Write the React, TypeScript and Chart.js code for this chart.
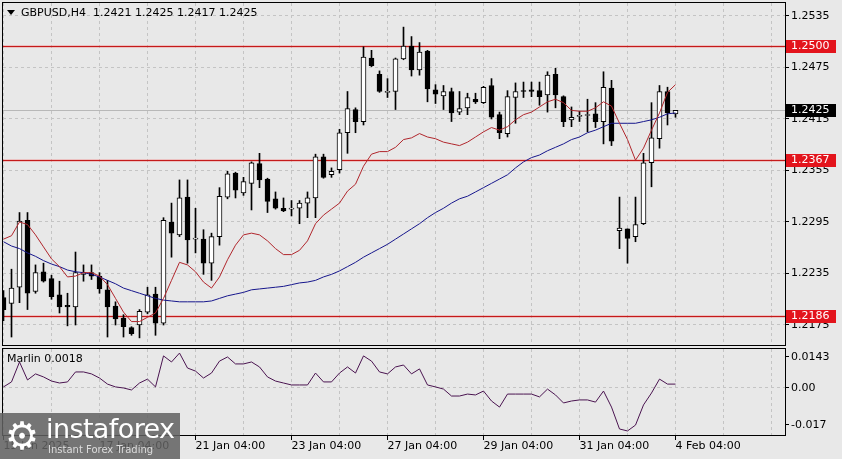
import React, { useEffect, useRef } from "react";
import { Chart, registerables } from "chart.js";

Chart.register(...registerables);

// ---- Data (GBPUSD, H4) ----
const opens = [1.2207,1.2200,1.2219,1.2297,1.2214,1.2237,1.2229,1.2210,1.2198,1.2196,
1.2234,1.2236,1.2232,1.2216,1.2197,1.2183,1.2172,1.2175,1.2190,1.2211,
1.2177,1.2295,1.2280,1.2324,1.2275,1.2275,1.2247,1.2278,1.2324,1.2352,
1.2329,1.2340,1.2363,1.2345,1.2322,1.2311,1.2310,1.2311,1.2317,1.2323,
1.2371,1.2350,1.2356,1.2399,1.2426,1.2412,1.2486,1.2467,1.2446,1.2447,
1.2485,1.2500,1.2472,1.2494,1.2449,1.2442,1.2447,1.2423,1.2428,1.2438,
1.2434,1.2454,1.2420,1.2398,1.2440,1.2448,1.2449,1.2448,1.2443,1.2467,
1.2441,1.2414,1.2418,1.2419,1.2421,1.2412,1.2451,1.2285,1.2287,1.2278,
1.2293,1.2364,1.2392,1.2447,1.2421];

const highs = [1.2215,1.2240,1.2306,1.2306,1.2245,1.2247,1.2233,1.2226,1.2212,1.2260,
1.2245,1.2245,1.2236,1.2227,1.2202,1.2187,1.2173,1.2193,1.2219,1.2219,
1.2300,1.2317,1.2344,1.2344,1.2311,1.2286,1.2282,1.2335,1.2354,1.2353,
1.2347,1.2365,1.2375,1.2346,1.2330,1.2323,1.2320,1.2320,1.2330,1.2374,
1.2374,1.2358,1.2403,1.2447,1.2428,1.2499,1.2495,1.2471,1.2462,1.2486,
1.2522,1.2511,1.2504,1.2495,1.2455,1.2454,1.2451,1.2447,1.2445,1.2445,
1.2453,1.2462,1.2423,1.2448,1.2457,1.2458,1.2458,1.2458,1.2470,1.2474,
1.2442,1.2429,1.2424,1.2438,1.2434,1.2470,1.2460,1.2324,1.2287,1.2324,
1.2375,1.2434,1.2454,1.2452,1.2425];

const lows = [1.2180,1.2161,1.2201,1.2193,1.2212,1.2225,1.2205,1.2189,1.2174,1.2175,
1.2226,1.2228,1.2212,1.2161,1.2175,1.2161,1.2163,1.2160,1.2188,1.2163,
1.2175,1.2254,1.2278,1.2247,1.2259,1.2234,1.2227,1.2268,1.2322,1.2323,
1.2326,1.2309,1.2335,1.2306,1.2310,1.2307,1.2302,1.2293,1.2300,1.2300,
1.2346,1.2347,1.2352,1.2375,1.2399,1.2408,1.2476,1.2446,1.2440,1.2426,
1.2484,1.2465,1.2466,1.2435,1.2433,1.2426,1.2412,1.2420,1.2420,1.2433,
1.2433,1.2415,1.2392,1.2394,1.2410,1.2440,1.2441,1.2431,1.2423,1.2428,
1.2406,1.2406,1.2412,1.2400,1.2405,1.2386,1.2384,1.2264,1.2247,1.2272,
1.2292,1.2336,1.2381,1.2408,1.2417];

const closes = [1.2193,1.2218,1.2296,1.2212,1.2236,1.2226,1.2208,1.2196,1.2196,1.2236,
1.2236,1.2232,1.2217,1.2196,1.2182,1.2173,1.2165,1.2191,1.2210,1.2177,
1.2297,1.2282,1.2323,1.2274,1.2275,1.2247,1.2278,1.2325,1.2351,1.2332,
1.2342,1.2364,1.2344,1.2319,1.2311,1.2308,1.2311,1.2317,1.2323,1.2371,
1.2347,1.2354,1.2399,1.2427,1.2412,1.2487,1.2477,1.2447,1.2447,1.2485,
1.2500,1.2472,1.2493,1.2450,1.2444,1.2447,1.2422,1.2427,1.2440,1.2435,
1.2452,1.2417,1.2399,1.2441,1.2447,1.2447,1.2447,1.2441,1.2466,1.2443,
1.2412,1.2417,1.2419,1.2420,1.2412,1.2452,1.2389,1.2288,1.2276,1.2292,
1.2364,1.2393,1.2447,1.2422,1.2425];

const fastMA = [1.2275,1.2279,1.2295,1.2292,1.2280,1.2266,1.2252,1.2243,1.2231,1.2232,
1.2236,1.2236,1.2232,1.2222,1.2206,1.2190,1.2179,1.2179,1.2184,1.2189,
1.2206,1.2227,1.2248,1.2245,1.2237,1.2225,1.2218,1.2231,1.2251,1.2268,
1.2280,1.2282,1.2280,1.2273,1.2264,1.2257,1.2257,1.2262,1.2273,1.2293,
1.2303,1.2310,1.2317,1.2331,1.2339,1.2360,1.2374,1.2377,1.2377,1.2382,
1.2391,1.2393,1.2398,1.2394,1.2392,1.2388,1.2386,1.2384,1.2388,1.2394,
1.2400,1.2405,1.2402,1.2406,1.2414,1.2420,1.2423,1.2429,1.2435,1.2438,
1.2434,1.2425,1.2424,1.2424,1.2428,1.2435,1.2430,1.2410,1.2391,1.2367,
1.2381,1.2402,1.2422,1.2446,1.2455];

const slowMA = [1.2272,1.2267,1.2264,1.2259,1.2255,1.2250,1.2246,1.2243,1.2239,1.2237,
1.2236,1.2234,1.2231,1.2227,1.2223,1.2218,1.2215,1.2212,1.2209,1.2206,
1.2204,1.2203,1.2202,1.2202,1.2202,1.2202,1.2203,1.2206,1.2209,1.2211,
1.2213,1.2216,1.2217,1.2218,1.2219,1.2220,1.2222,1.2224,1.2225,1.2227,
1.2231,1.2234,1.2238,1.2243,1.2248,1.2254,1.2259,1.2264,1.2269,1.2275,
1.2281,1.2287,1.2293,1.2300,1.2306,1.2311,1.2317,1.2322,1.2325,1.2330,
1.2335,1.2340,1.2345,1.2350,1.2358,1.2365,1.2370,1.2373,1.2378,1.2382,
1.2386,1.2391,1.2394,1.2399,1.2402,1.2406,1.2410,1.2410,1.2410,1.2410,
1.2412,1.2414,1.2417,1.2421,1.2422];

const marlin = [0.0005,0.0028,0.0120,0.0037,0.0065,0.0051,0.0032,0.0023,0.0028,0.0074,
0.0074,0.0065,0.0046,0.0018,0.0005,0.0000,-0.0009,0.0023,0.0041,0.0005,
0.0148,0.0120,0.0161,0.0092,0.0078,0.0046,0.0069,0.0124,0.0143,0.0111,
0.0111,0.0120,0.0097,0.0051,0.0032,0.0023,0.0014,0.0014,0.0014,0.0069,
0.0028,0.0028,0.0069,0.0097,0.0069,0.0148,0.0124,0.0074,0.0065,0.0097,
0.0106,0.0065,0.0088,0.0014,0.0005,-0.0005,-0.0037,-0.0037,-0.0028,-0.0032,
-0.0014,-0.0060,-0.0088,-0.0028,-0.0028,-0.0028,-0.0028,-0.0041,-0.0005,-0.0032,
-0.0069,-0.0060,-0.0055,-0.0055,-0.0065,-0.0014,-0.0088,-0.0189,-0.0198,-0.0171,
-0.0078,-0.0023,0.0041,0.0018,0.0018];

const priceTicks = [1.2175, 1.2235, 1.2295, 1.2355, 1.2415, 1.2475, 1.2535];
const levelPrices = [1.2500, 1.2367, 1.2186];
const levelTexts = ["1.2500", "1.2367", "1.2186"];
const marlinTicks = [-0.017, 0, 0.0143];
const marlinTickTexts = ["-0.017", "0.00", "0.0143"];
const timeLabelIdx = [0, 12, 24, 36, 48, 60, 72, 84];
const timeLabelTexts = ["15 Jan 2025", "17 Jan 04:00", "21 Jan 04:00", "23 Jan 04:00", "27 Jan 04:00", "29 Jan 04:00", "31 Jan 04:00", "4 Feb 04:00"];
const gridIdx = [0, 6, 12, 18, 24, 30, 36, 42, 48, 54, 60, 66, 72, 78, 84, 90, 96];

// ---- Style ----
const BG = "#e8e8e8";
const GRID = "#c4c4c4";
const FONT = "'DejaVu Sans', 'Liberation Sans', sans-serif";
const X_MIN = -0.0625;
const X_MAX = 97.6875;

Chart.defaults.font.family = FONT;
Chart.defaults.font.size = 11;
Chart.defaults.color = "#000";

function zeroPad(s: any) {
  s.paddingTop = 0;
  s.paddingBottom = 0;
  s.paddingLeft = 0;
  s.paddingRight = 0;
}

function xScale(showLabels: boolean): any {
  return {
    type: "linear",
    min: X_MIN,
    max: X_MAX,
    offset: false,
    afterBuildTicks: (s: any) => {
      s.ticks = gridIdx.map((v) => ({ value: v }));
    },
    afterFit: (s: any) => {
      s.height = showLabels ? 24 : 0;
      zeroPad(s);
    },
    grid: {
      display: true,
      offset: false,
      color: GRID,
      lineWidth: 1,
      drawTicks: showLabels,
      tickLength: 5,
      tickColor: (c: any) => (c.tick && timeLabelIdx.includes(c.tick.value) ? "#000" : "rgba(0,0,0,0)"),
      tickBorderDash: [],
    },
    border: { display: false, dash: [3, 3] },
    ticks: {
      display: showLabels,
      autoSkip: false,
      maxRotation: 0,
      minRotation: 0,
      align: "start",
      padding: 0,
      color: "#000",
      font: { size: 11, family: FONT },
      callback: (v: any) => {
        const k = timeLabelIdx.indexOf(Number(v));
        return k >= 0 ? timeLabelTexts[k] : "";
      },
    },
  };
}

function drawBox(ctx: CanvasRenderingContext2D, y: number, fill: string, text: string) {
  ctx.fillStyle = fill;
  ctx.fillRect(786, Math.round(y) - 6, 50, 13);
  ctx.fillStyle = "#fff";
  ctx.font = `11px ${FONT}`;
  ctx.textAlign = "left";
  ctx.textBaseline = "middle";
  ctx.fillText(text, 791, Math.round(y) + 0.5);
}

export default function App() {
  const mainRef = useRef<HTMLCanvasElement>(null);
  const indRef = useRef<HTMLCanvasElement>(null);

  useEffect(() => {
    const last = closes.length - 1;

    const mainDecor = {
      id: "mainDecor",
      beforeDatasetsDraw(chart: any) {
        const { ctx, chartArea, scales } = chart;
        const y = scales.y;
        ctx.save();
        ctx.beginPath();
        ctx.rect(chartArea.left, chartArea.top, chartArea.right - chartArea.left, chartArea.bottom - chartArea.top);
        ctx.clip();
        const yb = Math.round(y.getPixelForValue(closes[last])) + 0.5;
        ctx.strokeStyle = "#b8b8b8";
        ctx.lineWidth = 1;
        ctx.beginPath();
        ctx.moveTo(chartArea.left, yb);
        ctx.lineTo(chartArea.right, yb);
        ctx.stroke();
        levelPrices.forEach((p) => {
          const yl = Math.round(y.getPixelForValue(p)) + 0.5;
          ctx.strokeStyle = "rgba(240,120,120,0.35)";
          ctx.lineWidth = 3;
          ctx.beginPath();
          ctx.moveTo(chartArea.left, yl);
          ctx.lineTo(chartArea.right, yl);
          ctx.stroke();
          ctx.strokeStyle = "#c41a1a";
          ctx.lineWidth = 1;
          ctx.beginPath();
          ctx.moveTo(chartArea.left, yl);
          ctx.lineTo(chartArea.right, yl);
          ctx.stroke();
        });
        ctx.restore();
      },
      afterDraw(chart: any) {
        const { ctx, chartArea, scales } = chart;
        const y = scales.y;
        ctx.save();
        ctx.strokeStyle = "#000";
        ctx.lineWidth = 1;
        ctx.strokeRect(chartArea.left - 0.5, chartArea.top - 0.5, chartArea.right - chartArea.left + 1, chartArea.bottom - chartArea.top + 1);
        levelPrices.forEach((p, k) => drawBox(ctx, y.getPixelForValue(p), "#e3141c", levelTexts[k]));
        drawBox(ctx, y.getPixelForValue(closes[last]), "#000", closes[last].toFixed(4));
        ctx.restore();
      },
    };

    const indDecor = {
      id: "indDecor",
      afterDraw(chart: any) {
        const { ctx, chartArea } = chart;
        ctx.save();
        ctx.strokeStyle = "#000";
        ctx.lineWidth = 1;
        ctx.strokeRect(chartArea.left - 0.5, chartArea.top - 0.5, chartArea.right - chartArea.left + 1, chartArea.bottom - chartArea.top + 1);
        ctx.restore();
      },
    };

    const mainChart = new Chart(mainRef.current as HTMLCanvasElement, {
      type: "bar",
      data: {
        datasets: [
          {
            type: "line",
            label: "MA fast",
            data: fastMA.map((v, i) => ({ x: i, y: v })),
            borderColor: "#b0262c",
            borderWidth: 1,
            pointRadius: 0,
            tension: 0,
            order: 0,
          } as any,
          {
            type: "line",
            label: "MA slow",
            data: slowMA.map((v, i) => ({ x: i, y: v })),
            borderColor: "#16168c",
            borderWidth: 1,
            pointRadius: 0,
            tension: 0,
            order: 0,
          } as any,
          {
            type: "bar",
            label: "body",
            data: opens.map((o, i) => ({ x: i, y: [o, closes[i]] })),
            backgroundColor: opens.map((o, i) => (closes[i] >= o ? "#ffffff" : "#000000")),
            borderColor: "#000",
            borderWidth: 1,
            borderSkipped: false,
            barThickness: 5,
            minBarLength: 1,
            grouped: false,
            order: 1,
          } as any,
          {
            type: "bar",
            label: "wick",
            data: lows.map((l, i) => ({ x: i, y: [l, highs[i]] })),
            backgroundColor: "#000",
            borderWidth: 0,
            barThickness: 1,
            grouped: false,
            order: 2,
          } as any,
        ],
      },
      options: {
        responsive: false,
        animation: false,
        events: [],
        layout: { padding: { left: 3, top: 3, right: 0, bottom: 1 } },
        plugins: { legend: { display: false }, tooltip: { enabled: false } },
        scales: {
          x: xScale(false),
          y: {
            type: "linear",
            position: "right",
            min: 1.21517,
            max: 1.25501,
            afterBuildTicks: (s: any) => {
              s.ticks = priceTicks.map((v) => ({ value: v }));
            },
            afterFit: (s: any) => {
              s.width = 57;
              zeroPad(s);
            },
            grid: { color: GRID, lineWidth: 1, drawTicks: true, tickLength: 4, tickColor: "#000", tickBorderDash: [] },
            border: { display: false, dash: [3, 3] },
            ticks: { padding: 2, color: "#000", font: { size: 11, family: FONT }, callback: (v: any) => Number(v).toFixed(4) },
          },
        },
      } as any,
      plugins: [mainDecor],
    });

    const indChart = new Chart(indRef.current as HTMLCanvasElement, {
      type: "line",
      data: {
        datasets: [
          {
            label: "Marlin",
            data: marlin.map((v, i) => ({ x: i, y: v })),
            borderColor: "#4a1450",
            borderWidth: 1,
            pointRadius: 0,
            tension: 0,
          },
        ],
      },
      options: {
        responsive: false,
        animation: false,
        events: [],
        layout: { padding: { left: 3, top: 3, right: 0, bottom: 0 } },
        plugins: { legend: { display: false }, tooltip: { enabled: false } },
        scales: {
          x: xScale(true),
          y: {
            type: "linear",
            position: "right",
            min: -0.02167,
            max: 0.01798,
            afterBuildTicks: (s: any) => {
              s.ticks = marlinTicks.map((v) => ({ value: v }));
            },
            afterFit: (s: any) => {
              s.width = 57;
              zeroPad(s);
            },
            grid: {
              color: (c: any) => (c.tick && c.tick.value === 0 ? GRID : "rgba(0,0,0,0)"),
              lineWidth: 1,
              drawTicks: true,
              tickLength: 4,
              tickColor: "#000",
              tickBorderDash: [],
            },
            border: { display: false, dash: [3, 3] },
            ticks: {
              padding: 2,
              color: "#000",
              font: { size: 11, family: FONT },
              callback: (v: any) => {
                const k = marlinTicks.indexOf(Number(v));
                return k >= 0 ? marlinTickTexts[k] : "";
              },
            },
          },
        },
      } as any,
      plugins: [indDecor],
    });

    return () => {
      mainChart.destroy();
      indChart.destroy();
    };
  }, []);

  const txt: React.CSSProperties = { position: "absolute", fontFamily: FONT, fontSize: 11, lineHeight: "14px", color: "#000", whiteSpace: "pre" };

  return (
    <div style={{ position: "fixed", left: 0, top: 0, width: 842, height: 459, background: BG, overflow: "hidden" }}>
      <canvas ref={mainRef} width={842} height={346} style={{ position: "absolute", left: 0, top: 0, width: 842, height: 346 }} />
      <canvas ref={indRef} width={842} height={113} style={{ position: "absolute", left: 0, top: 346, width: 842, height: 113 }} />
      <div style={{ position: "absolute", left: 7, top: 10, width: 0, height: 0, borderLeft: "4px solid transparent", borderRight: "4px solid transparent", borderTop: "5px solid #000" }} />
      <div style={{ ...txt, left: 21, top: 6 }}>{"GBPUSD,H4  1.2421 1.2425 1.2417 1.2425"}</div>
      <div style={{ ...txt, left: 7, top: 352 }}>{"Marlin 0.0018"}</div>
      <div style={{ position: "absolute", left: 0, top: 413, width: 180, height: 46, background: "rgba(98,98,98,0.86)" }}>
        <div style={{ position: "absolute", left: 5, top: 0, fontFamily: FONT, fontSize: 38, lineHeight: "46px", color: "#fff" }}>{"⚙"}</div>
        <div style={{ position: "absolute", left: 46, top: 0, fontFamily: FONT, fontSize: 27, lineHeight: "32px", color: "#fff", letterSpacing: -0.6 }}>{"instaforex"}</div>
        <div style={{ position: "absolute", left: 48, top: 30, fontFamily: FONT, fontSize: 10, lineHeight: "13px", color: "#dcdcdc" }}>{"Instant Forex Trading"}</div>
      </div>
    </div>
  );
}
